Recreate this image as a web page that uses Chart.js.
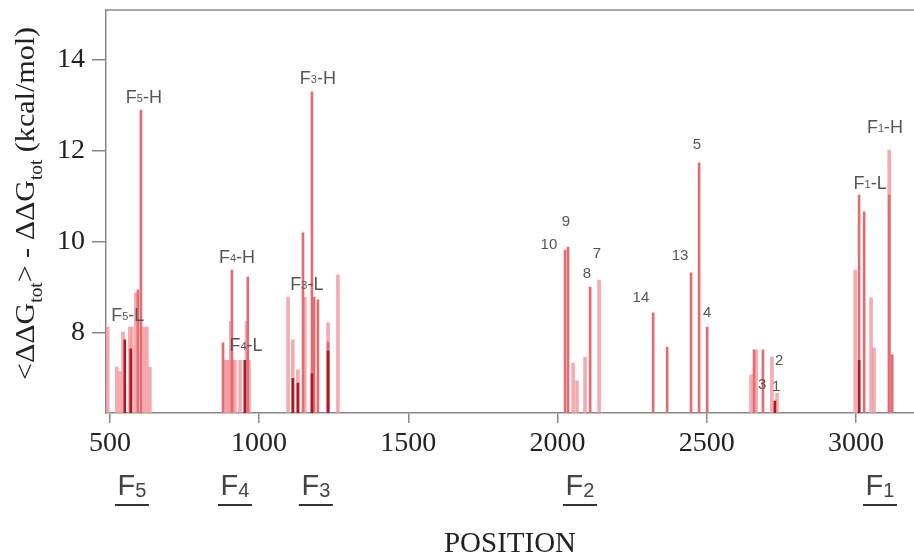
<!DOCTYPE html>
<html>
<head>
<meta charset="utf-8">
<title>DDG by position</title>
<script src="https://cdn.jsdelivr.net/npm/chart.js@4.4.1/dist/chart.umd.min.js"></script>
<style>
  html, body { margin: 0; padding: 0; background: #fff; }
  #wrap { width: 914px; height: 556px; }
</style>
</head>
<body>
<div id="wrap"><canvas id="ddgChart" width="914" height="556"></canvas></div>
<script>
'use strict';

// pale bars
var lightPos = [493, 523, 534, 544, 567, 574, 587, 614, 624, 634,
                885, 892, 899, 905, 912, 919, 905, 958, 936, 966,
                1097, 1113, 1130, 1153, 1231, 1264,
                2052, 2065, 2092, 2139,
                2648, 2665, 2718, 2735,
                2997, 3050, 3060, 3111];
var lightVal = [8.13, 7.25, 7.15, 8.02, 8.13, 8.13, 8.88, 8.13, 8.13, 7.25,
                7.4, 7.4, 7.4, 7.4, 7.4, 7.4, 8.25, 8.25, 7.4, 7.4,
                8.79, 7.85, 7.19, 8.79, 8.22, 9.27,
                7.34, 6.95, 7.47, 9.16,
                7.08, 7.63, 7.47, 6.68,
                9.38, 8.77, 7.67, 12.02];

// red lines
var midPos = [594, 604, 879, 909, 962, 1147, 1177, 1184, 1197, 1231,
              2025, 2035, 2109, 2320, 2367, 2447, 2474, 2501, 2658, 2688,
              3010, 3027, 3111, 3121];
var midVal = [8.95, 12.9, 7.78, 9.38, 9.23, 10.2, 13.3, 8.79, 8.73, 7.8,
              9.82, 9.89, 9.01, 8.44, 7.69, 9.32, 11.74, 8.13, 7.63, 7.63,
              11.03, 10.66, 11.03, 7.52];

// dark red cores
var darkPos = [550, 570, 952, 1113, 1130, 1177, 1231, 2728, 3010];
var darkVal = [7.85, 7.65, 7.4, 7.0, 6.9, 7.1, 7.6, 6.5, 7.4];

var xTicks = [500, 1000, 1500, 2000, 2500, 3000];
var yTicks = [8, 10, 12, 14];

// peak labels, "_" marks the subscript digit
var peakText = ['F_5-H', 'F_5-L', 'F_4-H', 'F_4-L', 'F_3-H', 'F_3-L',
                '10', '9', '8', '7', '14', '13', '5', '4', '3', '2', '1',
                'F_1-L', 'F_1-H'];
var peakX = [614, 560, 926, 956, 1197, 1160,
             1971, 2028, 2098, 2132, 2279, 2410, 2467, 2501, 2685, 2742, 2732,
             3047, 3097];
var peakY = [13.16, 8.37, 9.65, 7.71, 13.58, 9.05,
             9.93, 10.44, 9.30, 9.74, 8.77, 9.69, 12.13, 8.44, 6.86, 7.38, 6.81,
             11.27, 12.5];

var fragSub = ['5', '4', '3', '2', '1'];
var fragPos = [574, 919, 1190, 2075, 3080];

var toPoints = function(xs, ys) {
  return xs.map(function(x, i) { return {x: x, y: ys[i]}; });
};

var drawParts = function(ctx, parts, x, y) {
  var total = 0;
  parts.forEach(function(p) {
    ctx.font = p.font;
    total += ctx.measureText(p.t).width;
  });
  var cx = x - total / 2;
  parts.forEach(function(p) {
    ctx.font = p.font;
    ctx.fillText(p.t, cx, y + (p.dy || 0));
    cx += ctx.measureText(p.t).width;
  });
};

var labelParts = function(text, size) {
  var sans = ' "Liberation Sans", Arial, sans-serif';
  var k = text.indexOf('_');
  if (k < 0) return [{t: text, font: size + 'px' + sans}];
  return [
    {t: text.slice(0, k), font: size + 'px' + sans},
    {t: text.charAt(k + 1), font: Math.round(size * 0.62) + 'px' + sans, dy: 1},
    {t: text.slice(k + 2), font: size + 'px' + sans}
  ];
};

var decorPlugin = {
  id: 'decor',
  afterDraw: function(chart) {
    var ctx = chart.ctx;
    var area = chart.chartArea;
    var xs = chart.scales.x, ys = chart.scales.y;

    ctx.save();
    // top frame line
    ctx.strokeStyle = '#888';
    ctx.lineWidth = 1.5;
    ctx.beginPath();
    ctx.moveTo(area.left, area.top);
    ctx.lineTo(area.right, area.top);
    ctx.stroke();

    // peak labels
    ctx.fillStyle = '#555';
    ctx.textBaseline = 'middle';
    ctx.textAlign = 'left';
    peakText.forEach(function(t, i) {
      var size = t.charAt(0) === 'F' ? 18 : 15;
      drawParts(ctx, labelParts(t, size), xs.getPixelForValue(peakX[i]), ys.getPixelForValue(peakY[i]));
    });

    // fragment names under the axis
    ctx.textBaseline = 'alphabetic';
    fragPos.forEach(function(p, i) {
      var px = xs.getPixelForValue(p);
      ctx.fillStyle = '#444';
      drawParts(ctx, [
        {t: 'F', font: '29px "Liberation Sans", Arial, sans-serif'},
        {t: fragSub[i], font: '20px "Liberation Sans", Arial, sans-serif', dy: 2}
      ], px, 495);
      ctx.strokeStyle = '#333';
      ctx.lineWidth = 2;
      ctx.beginPath();
      ctx.moveTo(px - 17, 505);
      ctx.lineTo(px + 17, 505);
      ctx.stroke();
    });

    // x title
    ctx.fillStyle = '#222';
    ctx.textAlign = 'center';
    ctx.font = '29px "Liberation Serif", "Times New Roman", serif';
    ctx.fillText('POSITION', (area.left + area.right) / 2, 552);

    // y title, rotated
    ctx.textAlign = 'left';
    var big = '28px "Liberation Serif", "Times New Roman", serif';
    var small = '18px "Liberation Serif", "Times New Roman", serif';
    var parts = [
      {t: '<\u0394\u0394G', font: big},
      {t: 'tot', font: small, dy: 8},
      {t: '> - \u0394\u0394G', font: big},
      {t: 'tot', font: small, dy: 8},
      {t: ' (kcal/mol)', font: big}
    ];
    var total = 0;
    parts.forEach(function(p) { ctx.font = p.font; total += ctx.measureText(p.t).width; });
    ctx.translate(34, 380);
    ctx.rotate(-Math.PI / 2);
    ctx.scale(353 / total, 1);
    drawParts(ctx, parts, total / 2, 0);
    ctx.restore();
  }
};

var serifTicks = {family: '"Liberation Serif", "Times New Roman", serif', size: 28};

var ctx = document.getElementById('ddgChart').getContext('2d');
var ddgChart = new Chart(ctx, {
  type: 'bar',
  data: {
    datasets: [
      {
        data: toPoints(darkPos, darkVal),
        backgroundColor: 'rgb(175, 25, 35)',
        barThickness: 2,
        order: 1
      },
      {
        data: toPoints(midPos, midVal),
        backgroundColor: 'rgb(228, 108, 112)',
        barThickness: 2,
        order: 2
      },
      {
        data: toPoints(lightPos, lightVal),
        backgroundColor: 'rgba(242, 150, 155, 0.8)',
        barThickness: 3,
        order: 3
      }
    ]
  },
  options: {
    responsive: false,
    animation: false,
    grouped: false,
    layout: {padding: {top: 10, left: 0, right: 0, bottom: 0}},
    plugins: {
      legend: {display: false},
      tooltip: {enabled: false}
    },
    scales: {
      x: {
        type: 'linear',
        min: 487,
        max: 3194,
        offset: false,
        grid: {offset: false, drawOnChartArea: false, tickLength: 10, color: '#888', lineWidth: 1.5},
        border: {color: '#888', width: 1.5},
        ticks: {
          font: serifTicks, color: '#222', padding: 4, maxRotation: 0, autoSkip: false,
          callback: function(v) { return String(v); }
        },
        afterBuildTicks: function(scale) {
          scale.ticks = xTicks.map(function(v) { return {value: v}; });
        },
        afterFit: function(scale) {
          scale.height = 143;
          scale.paddingLeft = 0;
          scale.paddingRight = 0;
        }
      },
      y: {
        min: 6.24,
        max: 15.1,
        grid: {drawOnChartArea: false, tickLength: 14, color: '#888', lineWidth: 1.5},
        border: {color: '#888', width: 1.5},
        ticks: {font: serifTicks, color: '#222', padding: 7},
        afterBuildTicks: function(scale) {
          scale.ticks = yTicks.map(function(v) { return {value: v}; });
        },
        afterFit: function(scale) {
          scale.width = 106;
          scale.paddingTop = 0;
          scale.paddingBottom = 0;
        }
      }
    }
  },
  plugins: [decorPlugin]
});
</script>
</body>
</html>
